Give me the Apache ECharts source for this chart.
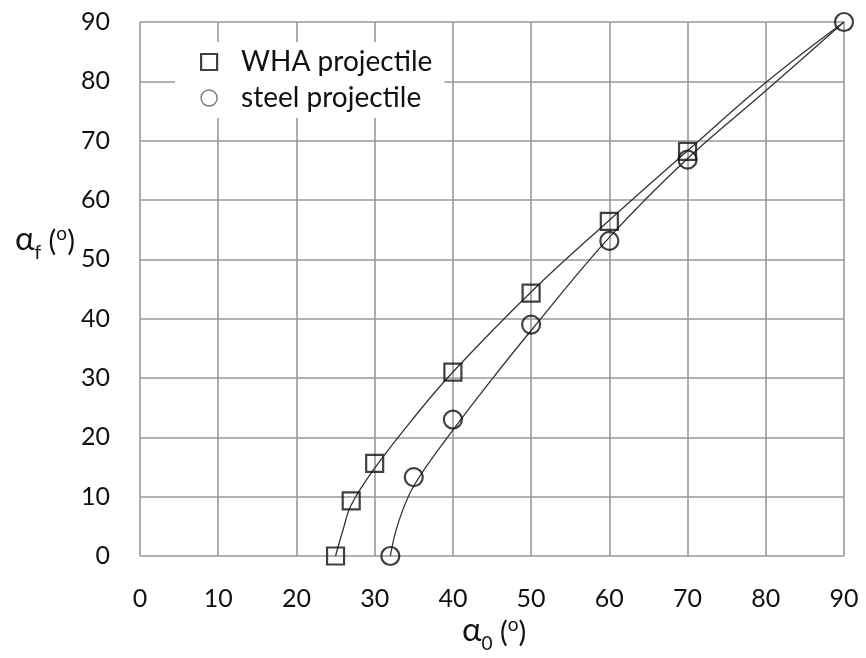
<!DOCTYPE html>
<html>
<head>
<meta charset="utf-8">
<script src="https://cdn.jsdelivr.net/npm/echarts@6/dist/echarts.min.js"></script>
<style>
html,body{margin:0;padding:0;background:#fff;}
#chart{width:866px;height:658px;}
</style>
</head>
<body>
<div id="chart"></div>
<script>
// Measured markers
const whaX = [25, 27, 30, 40, 50, 60, 70];
const whaY = [0, 9.3, 15.6, 31, 44.3, 56.4, 68.2];
const steelX = [32, 35, 40, 50, 60, 70, 90];
const steelY = [0, 13.3, 23, 39, 53.1, 66.8, 90];
// Fitted curves
const whaFitX = [25, 26, 27, 30, 35, 40, 50, 60, 70, 80, 90];
const whaFitY = [0, 4.6, 8.6, 14.8, 23.3, 31, 44.5, 56.6, 68.3, 79.8, 90];
const steelFitX = [32, 33, 35, 40, 45, 50, 60, 70, 80, 90];
const steelFitY = [0, 5.5, 11.8, 21.2, 29.8, 38, 53.7, 67, 78.4, 90];
const xTicks = [0, 10, 20, 30, 40, 50, 60, 70, 80, 90];
const yTicks = [0, 10, 20, 30, 40, 50, 60, 70, 80, 90];

const zip = (a, b) => a.map((v, i) => [v, b[i]]);
const FONT = 'Lato';
const nameRich = {
  a: {fontFamily: FONT, fontSize: 33, fontWeight: 'normal', color: '#111', verticalAlign: 'bottom'},
  s: {fontFamily: FONT, fontSize: 19, fontWeight: 'normal', color: '#111', verticalAlign: 'bottom', padding: [0, 0, -6, 0]},
  p: {fontFamily: FONT, fontSize: 29, fontWeight: 'normal', color: '#111', verticalAlign: 'bottom'},
  o: {fontFamily: FONT, fontSize: 19, fontWeight: 'normal', color: '#111', verticalAlign: 'top', padding: [1, 0, 0, 0]}
};
const chart = echarts.init(document.getElementById('chart'));
chart.setOption({
  backgroundColor: '#fff',
  animation: false,
  grid: {left: 140, right: 22, top: 22, bottom: 102, containLabel: false},
  title: [
    {text: '{a|α}{s|f}{p| (}{o|o}{p|)}', left: 10, top: 218,
     textStyle: {fontWeight: 'normal', rich: nameRich}},
    {text: '{a|α}{s|0}{p| (}{o|o}{p|)}', left: 457, top: 609,
     textStyle: {fontWeight: 'normal', rich: nameRich}}
  ],
  legend: {
    orient: 'vertical',
    left: 175, top: 42,
    backgroundColor: '#fff',
    padding: [6, 12, 6, 25],
    itemGap: 8,
    itemWidth: 16, itemHeight: 16,
    textStyle: {fontFamily: FONT, fontSize: 28, color: '#111', padding: [0, 0, 0, 19]},
    data: [
      {name: 'WHA projectile', icon: 'rect', itemStyle: {color: '#fff', borderColor: '#111', borderWidth: 2.2}},
      {name: 'steel projectile', icon: 'circle', itemStyle: {color: '#fff', borderColor: '#555', borderWidth: 1.4}}
    ]
  },
  xAxis: {
    type: 'value', min: 0, max: 90, interval: 10,
    axisLine: {show: false}, axisTick: {show: false},
    axisLabel: {fontFamily: FONT, fontSize: 25, color: '#111', margin: 30,
      formatter: v => xTicks.includes(v) ? String(v) : ''},
    splitLine: {show: true, lineStyle: {color: '#999', width: 1.6}}
  },
  yAxis: {
    type: 'value', min: 0, max: 90, interval: 10,
    axisLine: {show: false}, axisTick: {show: false},
    axisLabel: {fontFamily: FONT, fontSize: 25, color: '#111', margin: 30,
      formatter: v => yTicks.includes(v) ? String(v) : ''},
    splitLine: {show: true, lineStyle: {color: '#999', width: 1.6}}
  },
  series: [
    {
      name: 'WHA fit', type: 'line', data: zip(whaFitX, whaFitY),
      smooth: 0.4, showSymbol: false, silent: true, z: 3,
      lineStyle: {color: '#333', width: 1.3}
    },
    {
      name: 'steel fit', type: 'line', data: zip(steelFitX, steelFitY),
      smooth: 0.4, showSymbol: false, silent: true, z: 3,
      lineStyle: {color: '#333', width: 1.3}
    },
    {
      name: 'WHA projectile', type: 'scatter', data: zip(whaX, whaY),
      symbol: 'rect', symbolSize: 17, z: 4,
      itemStyle: {color: 'rgba(0,0,0,0)', borderColor: '#111', borderWidth: 2.2}
    },
    {
      name: 'steel projectile', type: 'scatter', data: zip(steelX, steelY),
      symbol: 'circle', symbolSize: 18, z: 4,
      itemStyle: {color: 'rgba(0,0,0,0)', borderColor: '#111', borderWidth: 2.2}
    }
  ]
});
</script>
</body>
</html>
